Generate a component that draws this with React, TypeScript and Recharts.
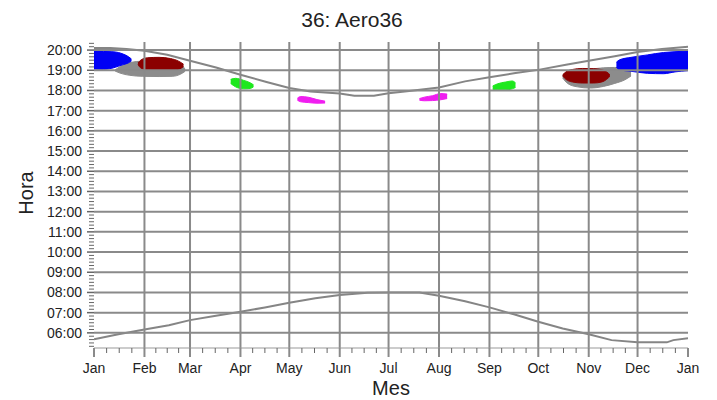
import React from "react";
import { ComposedChart, Area, Line, XAxis, YAxis, ReferenceLine } from "recharts";

// day-of-year at the start of each month (Jan .. next Jan)
const monthDays = [0, 31, 59, 90, 120, 151, 181, 212, 243, 273, 304, 334, 365];
const monthLabels = ["Jan", "Feb", "Mar", "Apr", "May", "Jun", "Jul", "Aug", "Sep", "Oct", "Nov", "Dec", "Jan"];

const hourTicks = [6, 7, 8, 9, 10, 11, 12, 13, 14, 15, 16, 17, 18, 19, 20];
const hourLabels = [
  "06:00", "07:00", "08:00", "09:00", "10:00", "11:00", "12:00", "13:00",
  "14:00", "15:00", "16:00", "17:00", "18:00", "19:00", "20:00",
];

// [day, hour]
const sunset: [number, number][] = [
  [0, 20.1], [10, 20.1], [20, 20.05], [31, 19.97], [45, 19.77], [59, 19.47], [75, 19.14],
  [90, 18.78], [106, 18.42], [120, 18.12], [133, 17.95], [151, 17.85], [160, 17.74],
  [172, 17.74], [181, 17.86], [191, 17.95], [212, 18.15], [228, 18.45], [243, 18.65],
  [259, 18.86], [273, 19.02], [290, 19.27], [304, 19.47], [320, 19.69], [334, 19.9],
  [349, 20.05], [365, 20.17],
];

const sunrise: [number, number][] = [
  [0, 5.68], [15, 5.93], [31, 6.17], [46, 6.38], [59, 6.63], [74, 6.83], [90, 7.04],
  [105, 7.26], [120, 7.49], [136, 7.71], [151, 7.87], [168, 7.99], [181, 8.0], [200, 8.0],
  [212, 7.84], [228, 7.56], [243, 7.26], [258, 6.92], [273, 6.55], [288, 6.22], [304, 5.93],
  [318, 5.64], [334, 5.53], [352, 5.53], [356, 5.64], [365, 5.73],
];

// blobs: [day, low hour, high hour]
const grayJan: [number, number, number][] = [
  [13, 18.96, 19.02], [16, 18.86, 19.18], [22, 18.75, 19.38], [30, 18.7, 19.45],
  [40, 18.69, 19.45], [48, 18.7, 19.38], [53, 18.8, 19.25], [56, 18.95, 19.08],
];
const redFeb: [number, number, number][] = [
  [27, 19.28, 19.36], [29, 19.1, 19.52], [33, 19.02, 19.62], [40, 19.0, 19.64],
  [47, 19.0, 19.58], [52, 19.05, 19.45], [55, 19.18, 19.3],
];
const blueJan: [number, number, number][] = [
  [0, 19.06, 19.93], [6, 19.05, 19.93], [11, 19.1, 19.92], [15, 19.2, 19.88],
  [18, 19.28, 19.8], [21, 19.36, 19.68], [23, 19.46, 19.56],
];
const greenApr: [number, number, number][] = [
  [84, 18.35, 18.55], [87, 18.18, 18.6], [92, 18.08, 18.5], [96, 18.1, 18.38], [98, 18.18, 18.28],
];
const magentaMay: [number, number, number][] = [
  [125, 17.52, 17.62], [127, 17.44, 17.7], [132, 17.4, 17.66], [137, 17.37, 17.55], [142, 17.38, 17.47],
];
const magentaAug: [number, number, number][] = [
  [200, 17.52, 17.6], [203, 17.49, 17.67], [208, 17.5, 17.74], [213, 17.54, 17.85], [217, 17.6, 17.82],
];
const greenSep: [number, number, number][] = [
  [245, 18.06, 18.22], [248, 18.03, 18.33], [253, 18.03, 18.42], [257, 18.08, 18.47], [259, 18.15, 18.38],
];
const grayNov: [number, number, number][] = [
  [288, 18.62, 18.72], [291, 18.35, 18.95], [297, 18.18, 19.02], [305, 18.12, 19.06],
  [313, 18.2, 19.12], [320, 18.35, 19.14], [326, 18.52, 19.1], [330, 18.72, 18.95],
];
const redNov: [number, number, number][] = [
  [288, 18.72, 18.78], [290, 18.55, 18.92], [294, 18.42, 19.04], [300, 18.37, 19.09],
  [307, 18.37, 19.08], [312, 18.42, 19.03], [315, 18.55, 18.92], [317, 18.7, 18.78],
];
const blueDec: [number, number, number][] = [
  [321, 19.15, 19.4], [323, 19.02, 19.52], [330, 18.95, 19.64], [340, 18.85, 19.76],
  [350, 18.83, 19.88], [357, 18.92, 19.92], [365, 18.98, 19.95],
];

const GRID = "#8a8a8a";
const CURVE = "#858585";
const TEXT = "#222";
const FONT = '"Liberation Sans", Arial, sans-serif';

const blobs = [
  { key: "grayJan", pts: grayJan, color: "#8c8c8c" },
  { key: "grayNov", pts: grayNov, color: "#8c8c8c" },
  { key: "redFeb", pts: redFeb, color: "#8b0000" },
  { key: "redNov", pts: redNov, color: "#8b0000" },
  { key: "blueJan", pts: blueJan, color: "#0000f5" },
  { key: "blueDec", pts: blueDec, color: "#0000f5" },
  { key: "greenApr", pts: greenApr, color: "#1ee81e" },
  { key: "greenSep", pts: greenSep, color: "#1ee81e" },
  { key: "magentaMay", pts: magentaMay, color: "#f01ef0" },
  { key: "magentaAug", pts: magentaAug, color: "#f01ef0" },
];

// merge everything into one table keyed by day
const rows = new Map<number, any>();
const rowAt = (d: number) => {
  if (!rows.has(d)) rows.set(d, { day: d });
  return rows.get(d);
};
sunset.forEach(([d, h]) => (rowAt(d).sunset = h));
sunrise.forEach(([d, h]) => (rowAt(d).sunrise = h));
blobs.forEach((b) => b.pts.forEach(([d, lo, hi]) => (rowAt(d)[b.key] = [lo, hi])));
const data = Array.from(rows.values()).sort((a, b) => a.day - b.day);

// ticks: months + quarter-month minors, hours + 10 minute minors
const xTicks: number[] = [];
monthDays.forEach((d, i) => {
  xTicks.push(d);
  if (i < monthDays.length - 1) {
    const step = (monthDays[i + 1] - d) / 4;
    for (let k = 1; k < 4; k++) xTicks.push(d + step * k);
  }
});
const yTicks: number[] = [];
for (let m = 320; m <= 1220; m += 10) yTicks.push(m / 60);

function XTick(props: any) {
  const { x, y, payload } = props;
  const i = monthDays.indexOf(payload.value);
  if (i < 0) return <line x1={x} x2={x} y1={y} y2={y + 5} stroke="#666" strokeWidth={1} />;
  return (
    <g>
      <line x1={x} x2={x} y1={y} y2={y + 9} stroke={GRID} strokeWidth={2} />
      <text x={x} y={y + 25} textAnchor="middle" fontSize={14} fontFamily={FONT} fill={TEXT}>
        {monthLabels[i]}
      </text>
    </g>
  );
}

function YTick(props: any) {
  const { x, y, payload } = props;
  const i = hourTicks.findIndex((h) => Math.abs(h - payload.value) < 1e-6);
  if (i < 0) return <line x1={x - 5} x2={x} y1={y} y2={y} stroke="#666" strokeWidth={1} />;
  return (
    <g>
      <line x1={x - 7} x2={x} y1={y} y2={y} stroke="#666" strokeWidth={1.5} />
      <text x={x - 12} y={y + 5} textAnchor="end" fontSize={14} fontFamily={FONT} fill={TEXT}>
        {hourLabels[i]}
      </text>
    </g>
  );
}

export default function App() {
  return (
    <div
      style={{
        position: "absolute",
        left: 0,
        top: 0,
        width: 717,
        height: 400,
        background: "white",
        fontFamily: FONT,
      }}
    >
      <div
        style={{
          position: "absolute",
          left: 252,
          width: 200,
          top: 9,
          textAlign: "center",
          fontSize: 21,
          lineHeight: 1,
          color: TEXT,
        }}
      >
        36: Aero36
      </div>
      <div
        style={{
          position: "absolute",
          left: 291,
          width: 200,
          top: 378,
          textAlign: "center",
          fontSize: 20,
          lineHeight: 1,
          color: TEXT,
        }}
      >
        Mes
      </div>
      <div
        style={{
          position: "absolute",
          left: 25.5 - 50,
          top: 193 - 10,
          width: 100,
          textAlign: "center",
          fontSize: 20,
          lineHeight: 1,
          color: TEXT,
          transform: "rotate(-90deg)",
        }}
      >
        Hora
      </div>

      <ComposedChart
        width={717}
        height={400}
        data={data}
        margin={{ top: 42, right: 29, bottom: 22, left: 0 }}
      >
        <XAxis
          type="number"
          dataKey="day"
          domain={[0, 365]}
          ticks={xTicks}
          interval={0}
          tickSize={0}
          tickMargin={0}
          tickLine={false}
          tick={<XTick />}
          axisLine={{ stroke: "#999", strokeWidth: 1 }}
          height={30}
          allowDataOverflow
        />
        <YAxis
          type="number"
          domain={[5.25, 20.4]}
          ticks={yTicks}
          interval={0}
          tickSize={0}
          tickMargin={0}
          tickLine={false}
          tick={<YTick />}
          axisLine={false}
          width={94}
          allowDataOverflow
        />

        {blobs.map((b) => (
          <Area
            key={b.key}
            dataKey={b.key}
            type="monotone"
            stroke={b.color}
            strokeWidth={1}
            fill={b.color}
            fillOpacity={1}
            connectNulls
            dot={false}
            activeDot={false}
            isAnimationActive={false}
          />
        ))}

        <Line dataKey="sunset" type="linear" stroke={CURVE} strokeWidth={2} dot={false} activeDot={false} connectNulls isAnimationActive={false} />
        <Line dataKey="sunrise" type="linear" stroke={CURVE} strokeWidth={2} dot={false} activeDot={false} connectNulls isAnimationActive={false} />

        {hourTicks.map((h) => (
          <ReferenceLine key={"h" + h} y={h} stroke={GRID} strokeWidth={2} />
        ))}
        {monthDays.slice(1, -1).map((d) => (
          <ReferenceLine key={"m" + d} x={d} stroke={GRID} strokeWidth={2} />
        ))}
      </ComposedChart>
    </div>
  );
}
